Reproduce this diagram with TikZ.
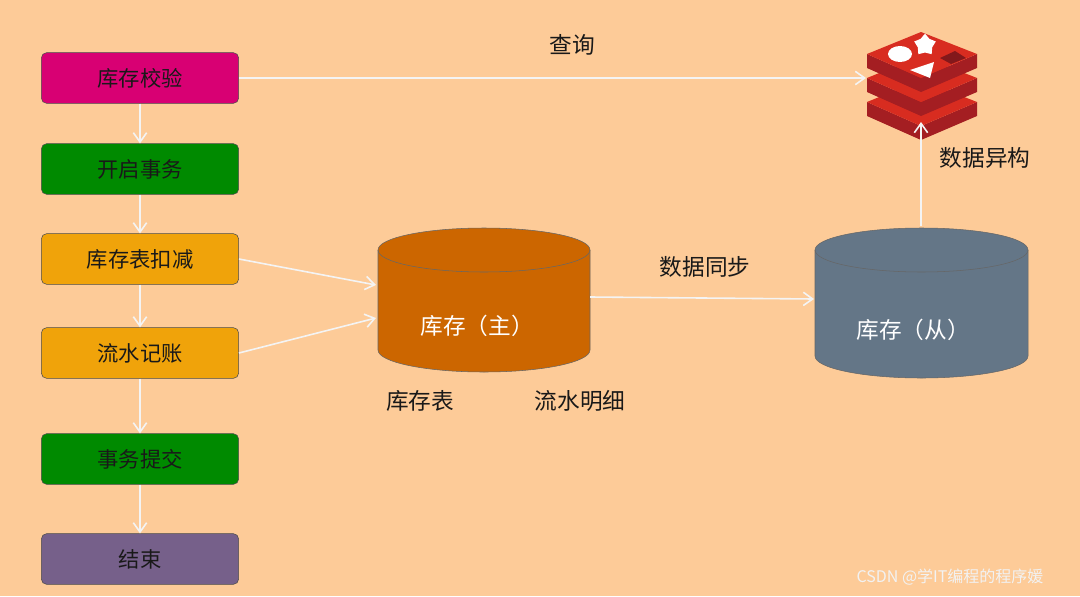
\documentclass[tikz,border=0pt]{standalone}
\usepackage{fontspec}
\setmainfont{Noto Sans CJK SC}
\usetikzlibrary{shapes.geometric,arrows.meta}
\definecolor{bg}{HTML}{FDCB98}
\definecolor{cmag}{HTML}{D80073}
\definecolor{cgreen}{HTML}{008A00}
\definecolor{corange}{HTML}{F0A30A}
\definecolor{cpurple}{HTML}{76608A}
\definecolor{cmaster}{HTML}{CC6600}
\definecolor{cslave}{HTML}{647687}
\definecolor{cline}{HTML}{F4F4F4}
\definecolor{rdark}{HTML}{A41E22}
\definecolor{rmid}{HTML}{C6302B}
\definecolor{rtop}{HTML}{D82C20}
\begin{document}
\begin{tikzpicture}[x=0.75pt,y=-0.75pt,
  stepbox/.style={draw=black!70,rounded corners=4pt,minimum width=148pt,minimum height=38pt,font=\fontsize{16}{19}\selectfont,text=black!90},
  lab/.style={font=\fontsize{17}{20}\selectfont,text=black!90},
  arr/.style={draw=cline,line width=1.2pt,-{Straight Barb[length=7pt,width=10pt]}}]
\fill[bg] (0,0) rectangle (1080,596);
\useasboundingbox (0,0) rectangle (1080,596);
\node[stepbox,fill=cmag] (b1) at (140,78) {库存校验};
\node[stepbox,fill=cgreen] (b2) at (140,169) {开启事务};
\node[stepbox,fill=corange] (b3) at (140,259) {库存表扣减};
\node[stepbox,fill=corange] (b4) at (140,353) {流水记账};
\node[stepbox,fill=cgreen] (b5) at (140,459) {事务提交};
\node[stepbox,fill=cpurple] (b6) at (140,559) {结束};
\foreach \a/\b in {b1/b2,b2/b3,b3/b4,b4/b5,b5/b6} \draw[arr] (\a) -- (\b);
% master cylinder
\fill[cmaster,draw=black!60] (378,250) -- (378,350) arc[start angle=180,end angle=0,x radius=106,y radius=22] -- (590,250) arc[start angle=0,end angle=-180,x radius=106,y radius=22] -- cycle;
\draw[black!60] (378,250) arc[start angle=180,end angle=0,x radius=106,y radius=22];
\node[lab,text=white] (m) at (477,326) {库存（主）};
\coordinate (mL1) at (376,285);
\coordinate (mL2) at (376,318);
\coordinate (mR) at (590,297);
% slave cylinder
\fill[cslave,draw=black!60] (815,250) -- (815,356) arc[start angle=180,end angle=0,x radius=106.5,y radius=22] -- (1028,250) arc[start angle=0,end angle=-180,x radius=106.5,y radius=22] -- cycle;
\draw[black!60] (815,250) arc[start angle=180,end angle=0,x radius=106.5,y radius=22];
\node[lab,text=white] (s) at (913,330) {库存（从）};
\coordinate (sL) at (814,299);
\coordinate (sT) at (921,226);
% redis icon
\foreach \y in {80,56,32}{
  \fill[rdark] (867,\y+22) -- (921,\y+46) -- (977,\y+22) -- (977,\y+36) -- (921,\y+60) -- (867,\y+36) -- cycle;
  \fill[rtop] (867,\y+22) -- (921,\y) -- (977,\y+22) -- (921,\y+46) -- cycle;
}
\fill[white] (900,54) ellipse[x radius=12,y radius=8];
\node[star,star points=5,fill=white,inner sep=0pt,minimum size=17pt] at (925,45) {};
\fill[white] (910,70) -- (934,62) -- (930,78) -- cycle;
\fill[rdark!80!black] (940,58) -- (955,51) -- (966,58) -- (951,64) -- cycle;
\coordinate (rL) at (866,78);
\coordinate (rB) at (921,122);
% arrows
\draw[arr] (b1.east) -- (rL);
\draw[arr] (b3.east) -- (mL1);
\draw[arr] (b4.east) -- (mL2);
\draw[arr] (mR) -- (sL);
\draw[arr] (sT) -- (rB);
% labels
\node[lab] (q) at (572,45) {查询};
\node[lab] (sync) at (705,267) {数据同步};
\node[lab] (het) at (985,158) {数据异构};
\node[lab] (t1) at (420,401) {库存表};
\node[lab] (t2) at (580,401) {流水明细};
\node[font=\fontsize{12}{14}\selectfont,text=white!90!gray] (wm) at (950,577) {CSDN @学IT编程的程序媛};
\end{tikzpicture}
\end{document}
